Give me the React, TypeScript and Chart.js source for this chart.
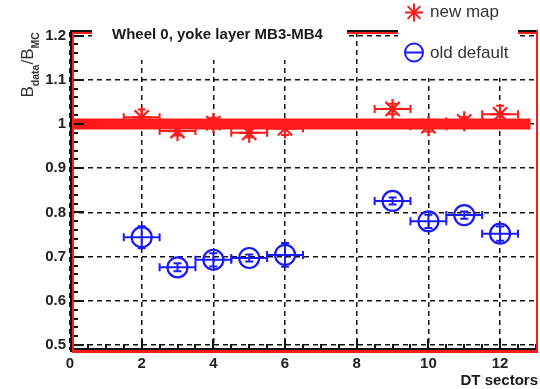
import React, { useEffect, useRef } from "react";
import { Chart, registerables } from "chart.js";

Chart.register(...registerables);

// ---------------- data ----------------
const SECTORS = [2, 3, 4, 5, 6, 9, 10, 11, 12];
const NEW_MAP = [1.015, 0.984, 1.002, 0.98, 0.99, 1.034, 0.995, 1.006, 1.022];
const NEW_MAP_ERR = [0.018, 0.01, 0.012, 0.01, 0.015, 0.012, 0.012, 0.01, 0.019];
const OLD_DEFAULT = [0.744, 0.676, 0.693, 0.697, 0.704, 0.826, 0.78, 0.794, 0.752];
const OLD_DEFAULT_ERR = [0.025, 0.009, 0.015, 0.008, 0.027, 0.008, 0.015, 0.008, 0.016];
const SECTOR_HALF_WIDTH = 0.5;
const X_TICKS = [0, 2, 4, 6, 8, 10, 12];
const Y_TICKS = [0.5, 0.6, 0.7, 0.8, 0.9, 1.0, 1.1, 1.2];
const REF_LINE_Y = 1.0;
const REF_LINE_X = [0, 12.85];
const TITLE = "Wheel 0, yoke layer MB3-MB4";
const LEGEND_LABELS = ["new map", "old default"];
const X_TITLE = "DT sectors";

const RED = "#ff1a1a";
const BLUE = "#1a1aff";
const FONT = '"Liberation Sans", Arial, Helvetica, sans-serif';

// target plot rectangle inside the 540x389 canvas
const PLOT = { left: 70, right: 537, top: 32, bottom: 350 };

function drawStar(ctx: CanvasRenderingContext2D, cx: number, cy: number, r: number) {
  ctx.beginPath();
  for (let i = 0; i < 4; i++) {
    const a = (i * Math.PI) / 4;
    ctx.moveTo(cx - Math.cos(a) * r, cy - Math.sin(a) * r);
    ctx.lineTo(cx + Math.cos(a) * r, cy + Math.sin(a) * r);
  }
  ctx.stroke();
}

const rootPlugin = {
  id: "rootStyle",
  beforeDatasetsDraw(chart: any) {
    const { ctx, scales } = chart;
    const x = scales.x;
    const y = scales.y;
    ctx.save();
    // thick reference line
    ctx.strokeStyle = RED;
    ctx.lineWidth = 11;
    ctx.beginPath();
    ctx.moveTo(x.getPixelForValue(REF_LINE_X[0]), y.getPixelForValue(REF_LINE_Y));
    ctx.lineTo(x.getPixelForValue(REF_LINE_X[1]), y.getPixelForValue(REF_LINE_Y));
    ctx.stroke();

    const drawErr = (vals: number[], errs: number[], color: string) => {
      ctx.strokeStyle = color;
      ctx.lineWidth = 2;
      const cap = 4;
      vals.forEach((v, i) => {
        const px = x.getPixelForValue(SECTORS[i]);
        const py = y.getPixelForValue(v);
        const x0 = x.getPixelForValue(SECTORS[i] - SECTOR_HALF_WIDTH);
        const x1 = x.getPixelForValue(SECTORS[i] + SECTOR_HALF_WIDTH);
        const y0 = y.getPixelForValue(v - errs[i]);
        const y1 = y.getPixelForValue(v + errs[i]);
        ctx.beginPath();
        ctx.moveTo(x0, py);
        ctx.lineTo(x1, py);
        ctx.moveTo(x0, py - cap);
        ctx.lineTo(x0, py + cap);
        ctx.moveTo(x1, py - cap);
        ctx.lineTo(x1, py + cap);
        ctx.moveTo(px, y0);
        ctx.lineTo(px, y1);
        ctx.moveTo(px - cap, y0);
        ctx.lineTo(px + cap, y0);
        ctx.moveTo(px - cap, y1);
        ctx.lineTo(px + cap, y1);
        ctx.stroke();
      });
    };
    drawErr(NEW_MAP, NEW_MAP_ERR, RED);
    drawErr(OLD_DEFAULT, OLD_DEFAULT_ERR, BLUE);
    ctx.restore();
  },
  afterDraw(chart: any) {
    const { ctx, chartArea, scales } = chart;
    const x = scales.x;
    const y = scales.y;
    const { left, right, top, bottom } = chartArea;
    ctx.save();

    // ticks on left axis (pointing inward)
    ctx.strokeStyle = "#111";
    ctx.lineWidth = 2;
    ctx.beginPath();
    const yStep = 0.02;
    for (let k = Math.ceil(y.min / yStep - 1e-6); k * yStep <= y.max + 1e-9; k++) {
      const v = k * yStep;
      const py = Math.round(y.getPixelForValue(v));
      const len = k % 5 === 0 ? 12 : 6;
      ctx.moveTo(left + 2, py);
      ctx.lineTo(left + 2 + len, py);
    }
    // ticks on bottom axis (pointing up)
    const xStep = 0.5;
    for (let k = 1; k * xStep < x.max; k++) {
      const v = k * xStep;
      const px = Math.round(x.getPixelForValue(v));
      const len = k % 4 === 0 ? 10 : 5;
      ctx.moveTo(px, bottom - 1);
      ctx.lineTo(px, bottom - 1 - len);
    }
    ctx.stroke();

    // frame
    ctx.lineWidth = 2;
    ctx.strokeStyle = "#111";
    ctx.beginPath();
    ctx.moveTo(left + 1, top - 2);
    ctx.lineTo(left + 1, bottom + 2);
    ctx.moveTo(left, top - 1);
    ctx.lineTo(right + 1, top - 1);
    ctx.moveTo(left, bottom - 1);
    ctx.lineTo(right + 1, bottom - 1);
    ctx.stroke();
    ctx.strokeStyle = RED;
    ctx.beginPath();
    ctx.moveTo(left + 3, top);
    ctx.lineTo(left + 3, bottom);
    ctx.moveTo(left + 2, top + 1);
    ctx.lineTo(right, top + 1);
    ctx.moveTo(right, top - 2);
    ctx.lineTo(right, bottom + 3);
    ctx.stroke();
    ctx.lineWidth = 3;
    ctx.beginPath();
    ctx.moveTo(left + 2, bottom + 1.5);
    ctx.lineTo(right + 1, bottom + 1.5);
    ctx.stroke();

    // x tick labels
    ctx.fillStyle = "#222";
    ctx.font = `bold 15px ${FONT}`;
    ctx.textAlign = "center";
    ctx.textBaseline = "alphabetic";
    X_TICKS.forEach((v) => {
      ctx.fillText(String(v), x.getPixelForValue(v), 368);
    });

    // white boxes (title, legend)
    ctx.fillStyle = "#fff";
    ctx.fillRect(92, 0, 255, 60);
    ctx.fillRect(398, 0, 120, 78);

    // title
    ctx.fillStyle = "#1a1a1a";
    ctx.font = `bold 15px ${FONT}`;
    ctx.textAlign = "left";
    ctx.fillText(TITLE, 112, 39);

    // legend
    ctx.strokeStyle = RED;
    ctx.lineWidth = 2;
    drawStar(ctx, 414, 12.5, 9);
    ctx.strokeStyle = BLUE;
    ctx.beginPath();
    ctx.arc(414, 52.5, 9, 0, Math.PI * 2);
    ctx.moveTo(405, 52.5);
    ctx.lineTo(423, 52.5);
    ctx.stroke();
    ctx.fillStyle = "#333";
    ctx.font = `17px ${FONT}`;
    ctx.fillText(LEGEND_LABELS[0], 430, 17);
    ctx.fillText(LEGEND_LABELS[1], 430, 58);

    // x title
    ctx.fillStyle = "#1a1a1a";
    ctx.font = `bold 15px ${FONT}`;
    ctx.textAlign = "right";
    ctx.fillText(X_TITLE, 538, 385);

    // y title: B_data/B_MC rotated
    ctx.save();
    ctx.translate(33, 97.5);
    ctx.rotate(-Math.PI / 2);
    ctx.textAlign = "left";
    ctx.fillStyle = "#333";
    const parts: [string, boolean][] = [
      ["B", false],
      ["data", true],
      ["/B", false],
      ["MC", true],
    ];
    let cx = 0;
    parts.forEach(([t, sub]) => {
      ctx.font = sub ? `bold 10.5px ${FONT}` : `17px ${FONT}`;
      ctx.fillText(t, cx, sub ? 6 : 0);
      cx += ctx.measureText(t).width;
    });
    ctx.restore();

    ctx.restore();
  },
};

// force the plot rectangle to the exact target position
const fixAreaPlugin = {
  id: "fixArea",
  afterLayout(chart: any) {
    const ca = chart.chartArea;
    ca.left = PLOT.left;
    ca.right = PLOT.right;
    ca.top = PLOT.top;
    ca.bottom = PLOT.bottom;
    ca.width = PLOT.right - PLOT.left;
    ca.height = PLOT.bottom - PLOT.top;
    const x = chart.scales.x;
    const y = chart.scales.y;
    x.left = PLOT.left;
    x.right = PLOT.right;
    x.width = PLOT.right - PLOT.left;
    x.top = PLOT.bottom;
    x.bottom = 389;
    x.height = 389 - PLOT.bottom;
    y.left = 0;
    y.right = PLOT.left;
    y.width = PLOT.left;
    y.top = PLOT.top;
    y.bottom = PLOT.bottom;
    y.height = PLOT.bottom - PLOT.top;
    x.configure();
    y.configure();
  },
};

export default function App() {
  const ref = useRef<HTMLCanvasElement>(null);
  useEffect(() => {
    const canvas = ref.current;
    if (!canvas) return;
    const tickFont = { family: FONT, size: 15, weight: "bold" as const };
    const chart = new Chart(canvas, {
      type: "scatter",
      data: {
        datasets: [
          {
            label: LEGEND_LABELS[0],
            data: SECTORS.map((s, i) => ({ x: s, y: NEW_MAP[i] })),
            pointStyle: "star",
            pointRadius: 10,
            pointHoverRadius: 10,
            pointBorderWidth: 2.2,
            borderColor: RED,
            backgroundColor: RED,
          },
          {
            label: LEGEND_LABELS[1],
            data: SECTORS.map((s, i) => ({ x: s, y: OLD_DEFAULT[i] })),
            pointStyle: "circle",
            pointRadius: 10,
            pointHoverRadius: 10,
            pointBorderWidth: 2.2,
            borderColor: BLUE,
            backgroundColor: "rgba(0,0,0,0)",
          },
        ],
      },
      options: {
        responsive: false,
        animation: false,
        events: [],
        layout: { padding: { left: 0, right: 3, top: 32, bottom: 0 } },
        plugins: {
          legend: { display: false },
          title: { display: false },
          tooltip: { enabled: false },
        },
        scales: {
          x: {
            type: "linear",
            min: 0,
            max: 13.03,
            afterBuildTicks: (s: any) => {
              s.ticks = X_TICKS.map((v) => ({ value: v }));
            },
            afterFit: (s: any) => {
              s.height = 39;
              s.paddingLeft = 0;
              s.paddingRight = 0;
            },
            ticks: { display: false },
            grid: { color: "#111", lineWidth: 1.5, drawTicks: false },
            border: { display: false, dash: [5, 4] },
          },
          y: {
            type: "linear",
            min: 0.489,
            max: 1.208,
            afterBuildTicks: (s: any) => {
              s.ticks = Y_TICKS.map((v) => ({ value: v }));
            },
            afterFit: (s: any) => {
              s.width = 70;
              s.paddingTop = 0;
              s.paddingBottom = 0;
            },
            ticks: {
              font: tickFont,
              color: "#222",
              padding: 4,
              autoSkip: false,
              callback: (v: any) => String(+Number(v).toFixed(2)),
            },
            grid: { color: "#111", lineWidth: 1.5, drawTicks: false },
            border: { display: false, dash: [5, 4] },
          },
        },
      },
      plugins: [fixAreaPlugin, rootPlugin],
    });
    return () => chart.destroy();
  }, []);
  return (
    <div style={{ position: "fixed", left: 0, top: 0, width: 540, height: 389, background: "#fff" }}>
      <canvas ref={ref} width={540} height={389} style={{ display: "block" }} />
    </div>
  );
}
